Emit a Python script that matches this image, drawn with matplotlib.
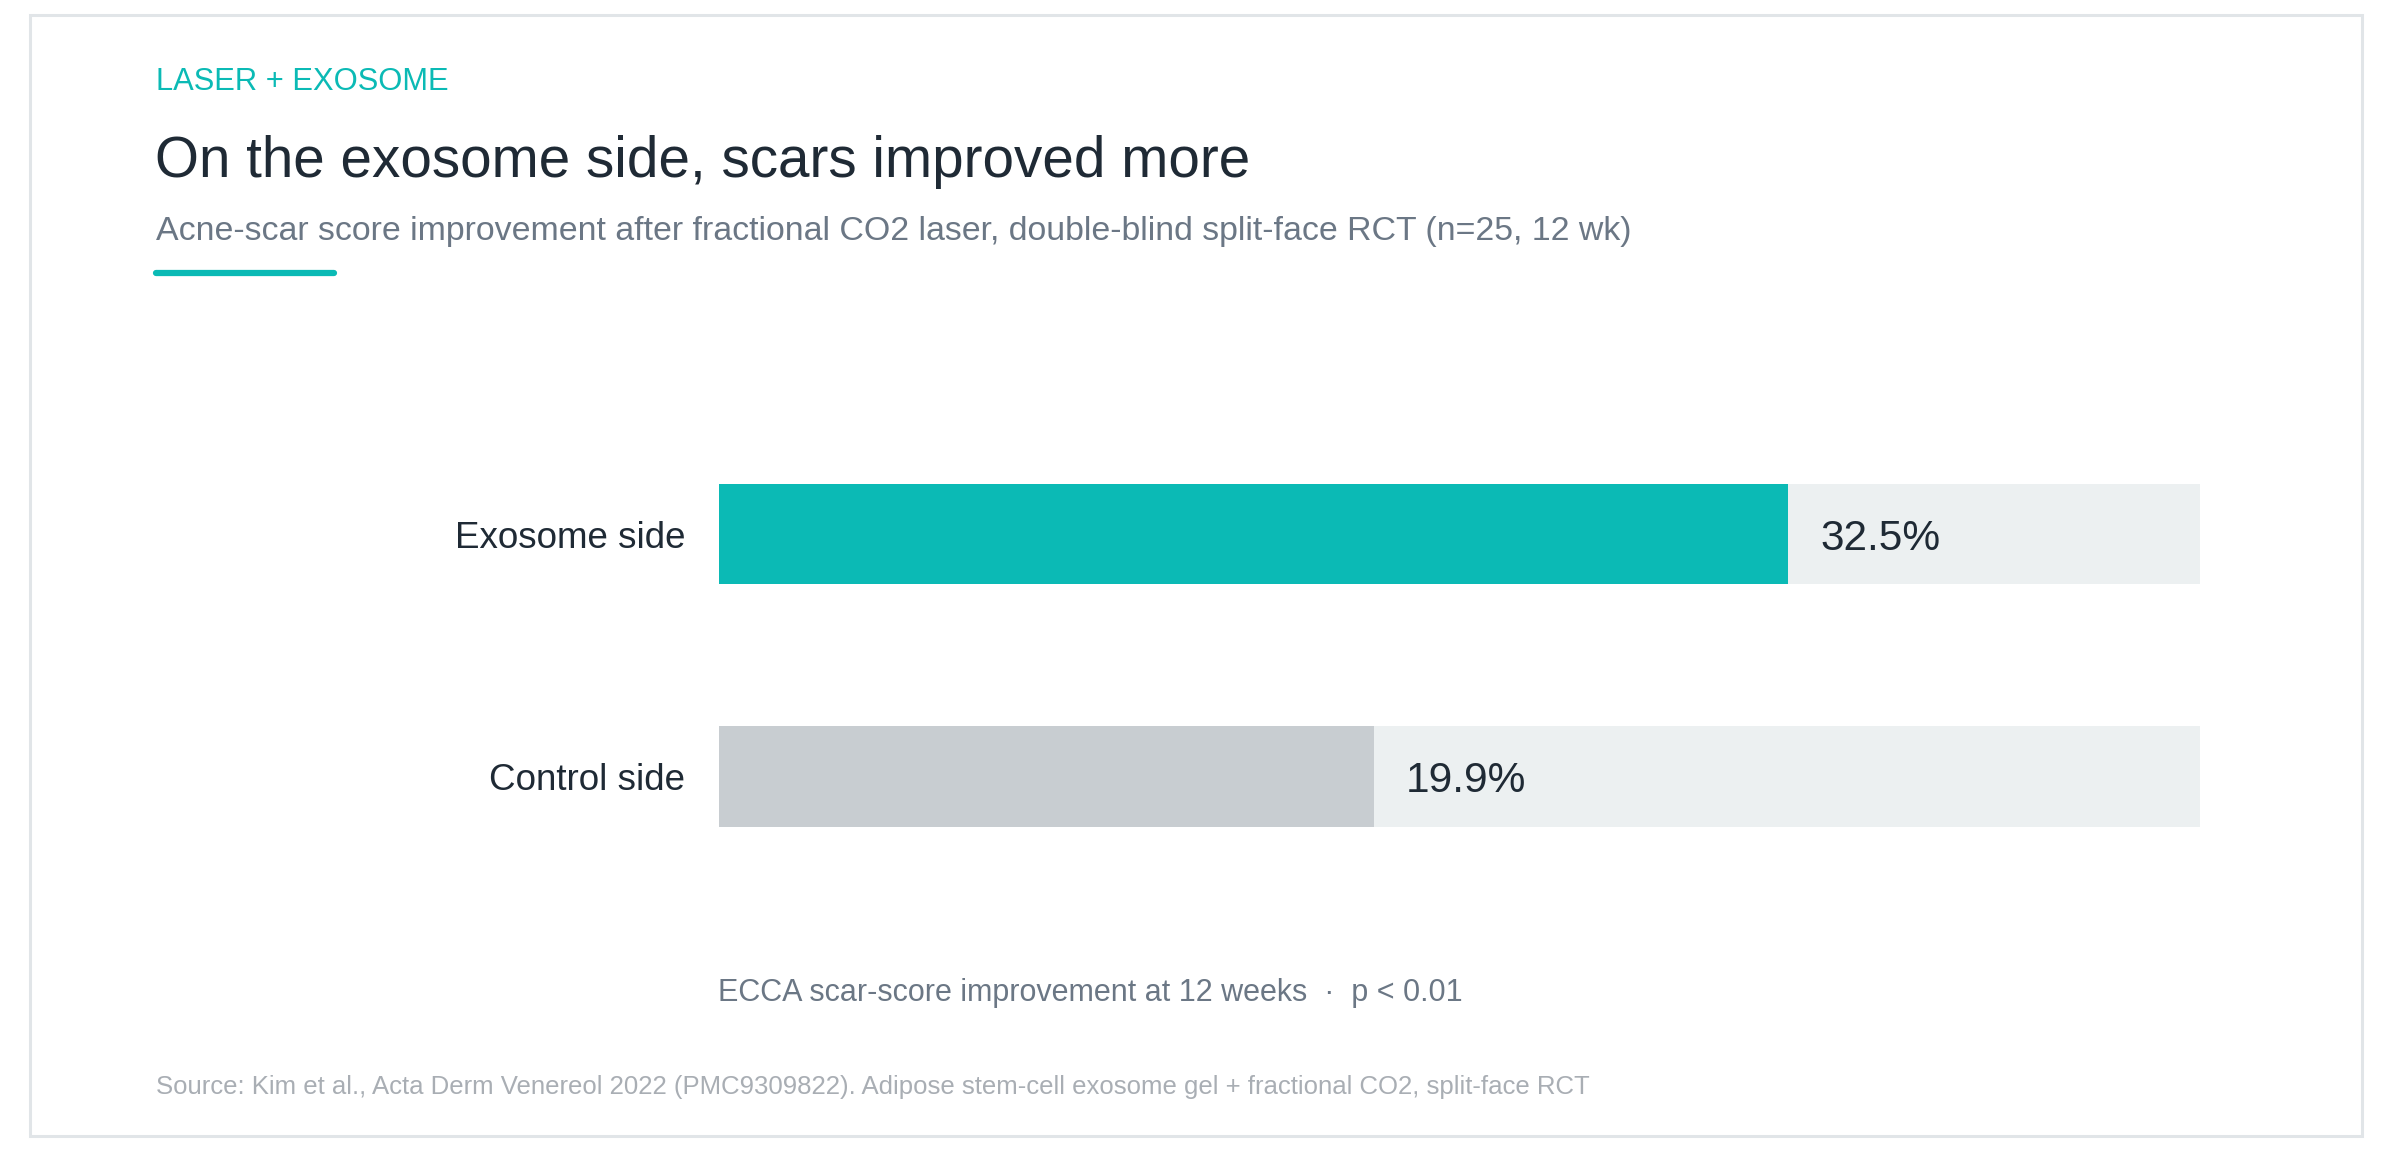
import matplotlib
matplotlib.use("Agg")
import matplotlib.pyplot as plt
from matplotlib.patches import Rectangle
from matplotlib.lines import Line2D

plt.rcParams['font.family'] = ['Liberation Sans', 'DejaVu Sans']

# ---- data ----
categories = ["Exosome side", "Control side"]
values = [32.5, 19.9]
track_max = 45.0
value_labels = ["32.5%", "19.9%"]
eyebrow = "LASER + EXOSOME"
title = "On the exosome side, scars improved more"
subtitle = "Acne-scar score improvement after fractional CO2 laser, double-blind split-face RCT (n=25, 12 wk)"
footnote = "ECCA scar-score improvement at 12 weeks  \u00b7  p < 0.01"
source = "Source: Kim et al., Acta Derm Venereol 2022 (PMC9309822). Adipose stem-cell exosome gel + fractional CO2, split-face RCT"

# ---- style ----
TEAL = "#0BBAB5"
GREY_BAR = "#C8CDD1"
TRACK = "#ECF0F1"
DARK = "#1F2A35"
SUB = "#6B7785"
SRC = "#A9AEB4"
BORDER = "#E1E5E8"

W, H = 2392, 1150
fig = plt.figure(figsize=(W / 100, H / 100), dpi=100)
fig.patch.set_facecolor("white")

def fx(px):
    return px / W

def fy(py):
    return 1 - py / H

# border
fig.patches.append(Rectangle((fx(30), fy(1136)), fx(2362) - fx(30), fy(15) - fy(1136),
                             transform=fig.transFigure, fill=False, edgecolor=BORDER, linewidth=2.2))

fig.text(fx(156), fy(90), eyebrow, color=TEAL, fontsize=22.2, va="baseline", ha="left")
fig.text(fx(155), fy(177), title, color=DARK, fontsize=40.8, va="baseline", ha="left")
fig.text(fx(156), fy(240), subtitle, color=SUB, fontsize=24.4, va="baseline", ha="left")
fig.lines.append(Line2D([fx(156), fx(334)], [fy(273), fy(273)], transform=fig.transFigure,
                        color=TEAL, linewidth=4.5, solid_capstyle="round"))

# bars axes
x0, x1 = 718.5, 2200
ytop_px, ybot_px = 400, 900
ax = fig.add_axes([fx(x0), fy(ybot_px), fx(x1) - fx(x0), (ybot_px - ytop_px) / H])
spacing = 242.5
c0 = 534.0
ax.set_xlim(0, track_max)
ax.set_ylim((ybot_px - c0) / spacing, (ytop_px - c0) / spacing)
ax.axis("off")
bar_h = 100.7 / spacing
ypos = list(range(len(categories)))
colors = [TEAL, GREY_BAR]
ax.barh(ypos, [track_max] * len(categories), height=bar_h, color=TRACK, linewidth=0)
ax.barh(ypos, values, height=bar_h, color=colors, linewidth=0)
for y, v, lab, cat in zip(ypos, values, value_labels, categories):
    ax.annotate(lab, xy=(v, y), xytext=(23, 0), textcoords="offset points",
                va="center_baseline", ha="left", fontsize=30.5, color=DARK)
    ax.annotate(cat, xy=(0, y), xytext=(-24, 0), textcoords="offset points",
                va="center_baseline", ha="right", fontsize=26.5, color=DARK)

fig.text(fx(718), fy(1001), footnote, color=SUB, fontsize=22, va="baseline", ha="left")
fig.text(fx(156), fy(1094), source, color=SRC, fontsize=18.5, va="baseline", ha="left")

fig.savefig("out.png", dpi=100, facecolor="white")
